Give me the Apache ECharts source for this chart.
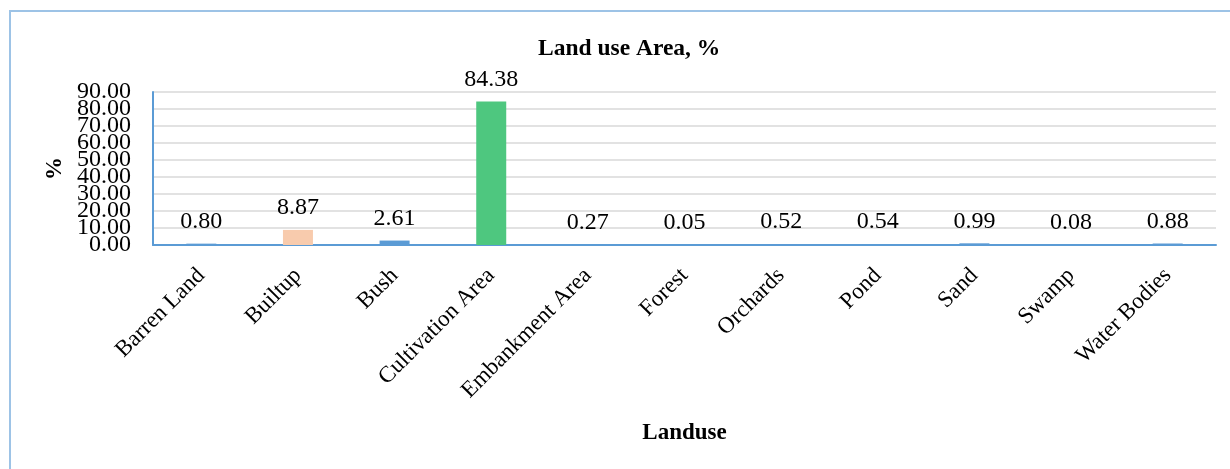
<!DOCTYPE html>
<html>
<head>
<meta charset="utf-8">
<script src="https://cdn.jsdelivr.net/npm/echarts@6/dist/echarts.min.js"></script>
<style>
  html, body { margin: 0; padding: 0; background: #fff; }
  #chart { width: 1230px; height: 469px; }
</style>
</head>
<body>
<div id="chart"></div>
<script>
const categories = ['Barren Land', 'Builtup', 'Bush', 'Cultivation Area', 'Embankment Area', 'Forest', 'Orchards', 'Pond', 'Sand', 'Swamp', 'Water Bodies'];
const areaPercent = [0.80, 8.87, 2.61, 84.38, 0.27, 0.05, 0.52, 0.54, 0.99, 0.08, 0.88];
const yTicks = [0, 10, 20, 30, 40, 50, 60, 70, 80, 90];

const barColors = ['#5B9BD5', '#F8CBAD', '#5B9BD5', '#4EC77F', '#5B9BD5', '#5B9BD5', '#5B9BD5', '#5B9BD5', '#5B9BD5', '#5B9BD5', '#5B9BD5'];
const FONT = "'Liberation Serif', 'Times New Roman', serif";

// Two overlaid value axes share one scale; each prints every other tick label
// so ECharts' min/max overlap pruning keeps all ten labels visible.
function yLabelAxis(showEven, isMain) {
  return {
    type: 'value',
    position: 'left',
    offset: 0,
    min: yTicks[0],
    max: yTicks[yTicks.length - 1],
    interval: yTicks[1] - yTicks[0],
    name: isMain ? '%' : '',
    nameLocation: 'middle',
    nameRotate: 90,
    nameGap: 82,
    nameTextStyle: { fontFamily: FONT, fontSize: 23, fontWeight: 'bold', color: '#000' },
    axisLine: { show: isMain, lineStyle: { color: '#5B9BD5', width: 2 } },
    axisTick: { show: false },
    axisLabel: {
      margin: 22,
      fontFamily: FONT,
      fontSize: 24,
      color: '#000',
      formatter: v => {
        const idx = yTicks.indexOf(v);
        return (idx % 2 === 0) === showEven ? v.toFixed(2) : '';
      }
    },
    splitLine: { show: isMain, lineStyle: { color: '#D9D9D9', width: 1.5 } }
  };
}

const chart = echarts.init(document.getElementById('chart'), null, { renderer: 'canvas' });
chart.setOption({
  animation: false,
  backgroundColor: '#ffffff',
  graphic: [{
    type: 'rect',
    shape: { x: 10, y: 11, width: 1260, height: 520 },
    style: { fill: 'none', stroke: '#9DC3E6', lineWidth: 2 },
    silent: true
  }],
  title: {
    text: 'Land use Area, %',
    left: 533,
    top: 32,
    textStyle: { fontFamily: FONT, fontSize: 23.5, fontWeight: 'bold', color: '#000' }
  },
  grid: { left: 153, right: 14, top: 92, bottom: 224, containLabel: false },
  xAxis: {
    type: 'category',
    data: categories,
    name: 'Landuse',
    nameLocation: 'middle',
    nameGap: 177,
    nameTextStyle: { fontFamily: FONT, fontSize: 23, fontWeight: 'bold', color: '#000' },
    axisLine: { show: true, lineStyle: { color: '#5B9BD5', width: 2 } },
    axisTick: { show: false },
    axisLabel: {
      interval: 0,
      rotate: 45,
      margin: 27,
      fontFamily: FONT,
      fontSize: 23,
      color: '#000'
    },
    splitLine: { show: false }
  },
  yAxis: [yLabelAxis(true, true), yLabelAxis(false, false)],
  series: [{
    type: 'bar',
    yAxisIndex: 0,
    barWidth: 30,
    data: areaPercent.map((v, i) => ({ value: v, itemStyle: { color: barColors[i] } })),
    label: {
      show: true,
      position: 'top',
      distance: 10,
      fontFamily: FONT,
      fontSize: 24,
      color: '#000',
      formatter: p => p.value.toFixed(2)
    }
  }]
});
</script>
</body>
</html>
